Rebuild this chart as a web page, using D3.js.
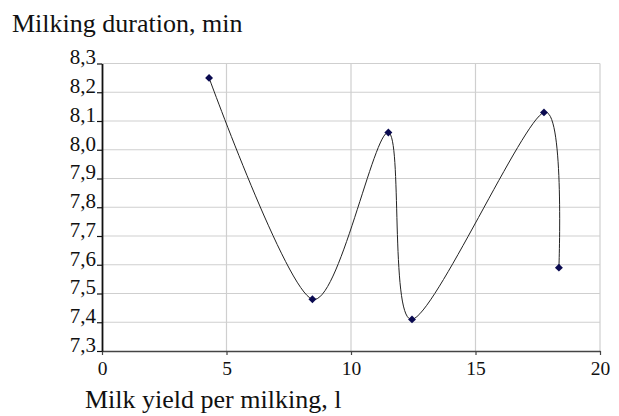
<!DOCTYPE html>
<html>
<head>
<meta charset="utf-8">
<script src="https://cdn.jsdelivr.net/npm/d3@7"></script>
<style>
  body { margin: 0; background: #fff; }
  svg text { fill: #111; }
</style>
</head>
<body>
<svg id="chart" width="619" height="416" font-family="'Liberation Serif', 'Times New Roman', serif"></svg>
<script>
// data
const milkYield = [4.3, 8.45, 11.5, 12.45, 17.75, 18.35];
const duration  = [8.25, 7.48, 8.06, 7.41, 8.13, 7.59];
const xTicks = [0, 5, 10, 15, 20];
const yTicks = [7.3, 7.4, 7.5, 7.6, 7.7, 7.8, 7.9, 8.0, 8.1, 8.2, 8.3];

const serif = "'Liberation Serif', 'Times New Roman', serif";
const svg = d3.select("#chart");
const m = {left: 102, right: 600, top: 63.5, bottom: 351};

const x = d3.scaleLinear().domain([0, 20]).range([m.left, m.right]);
const y = d3.scaleLinear().domain([7.3, 8.3]).range([m.bottom, m.top]);
const fmt = d => d.toFixed(1).replace(".", ",");

// grid
svg.append("g").selectAll("line").data(yTicks.slice(1)).enter().append("line")
  .attr("x1", m.left).attr("x2", m.right)
  .attr("y1", d => y(d)).attr("y2", d => y(d))
  .attr("stroke", "#cfcfcf").attr("stroke-width", 1.2);
svg.append("g").selectAll("line").data(xTicks.slice(1)).enter().append("line")
  .attr("y1", m.top).attr("y2", m.bottom)
  .attr("x1", d => x(d)).attr("x2", d => x(d))
  .attr("stroke", "#cfcfcf").attr("stroke-width", 1.2);

// axes
const xAxis = svg.append("g").attr("transform", `translate(0,${m.bottom})`)
  .call(d3.axisBottom(x).tickValues(xTicks).tickSize(4).tickSizeOuter(0).tickPadding(6))
  .attr("font-family", serif).attr("font-size", 19.5);
xAxis.select(".domain").attr("stroke", "#444").attr("stroke-width", 1.6);
xAxis.selectAll(".tick line").attr("stroke", "#444").attr("stroke-width", 1.2);
xAxis.selectAll("text").attr("fill", "#111");

const yAxis = svg.append("g").attr("transform", `translate(${m.left},0)`)
  .call(d3.axisLeft(y).tickValues(yTicks).tickFormat(fmt).tickSize(5).tickSizeOuter(0).tickPadding(1))
  .attr("font-family", serif).attr("font-size", 21);
yAxis.select(".domain").attr("stroke", "#111").attr("stroke-width", 1.8);
yAxis.selectAll(".tick line").attr("stroke", "#111").attr("stroke-width", 1.2);
yAxis.selectAll("text").attr("dy", "0.02em").attr("fill", "#111");

// smoothed line
const pts = milkYield.map((v, i) => [v, duration[i]]);
svg.append("path").datum(pts)
  .attr("fill", "none").attr("stroke", "#222").attr("stroke-width", 1)
  .attr("d", d3.line().x(d => x(d[0])).y(d => y(d[1])).curve(d3.curveCardinal.tension(0.15)));

// diamond markers
svg.append("g").selectAll("path").data(pts).enter().append("path")
  .attr("transform", d => `translate(${x(d[0])},${y(d[1])})`)
  .attr("d", d3.symbol(d3.symbolDiamond2, 40))
  .attr("fill", "#0a0a50");

// titles
svg.append("text").attr("x", 12).attr("y", 32).attr("font-size", 26)
  .text("Milking duration, min");
svg.append("text").attr("x", 85).attr("y", 408).attr("font-size", 26)
  .text("Milk yield per milking, l");
</script>
</body>
</html>
